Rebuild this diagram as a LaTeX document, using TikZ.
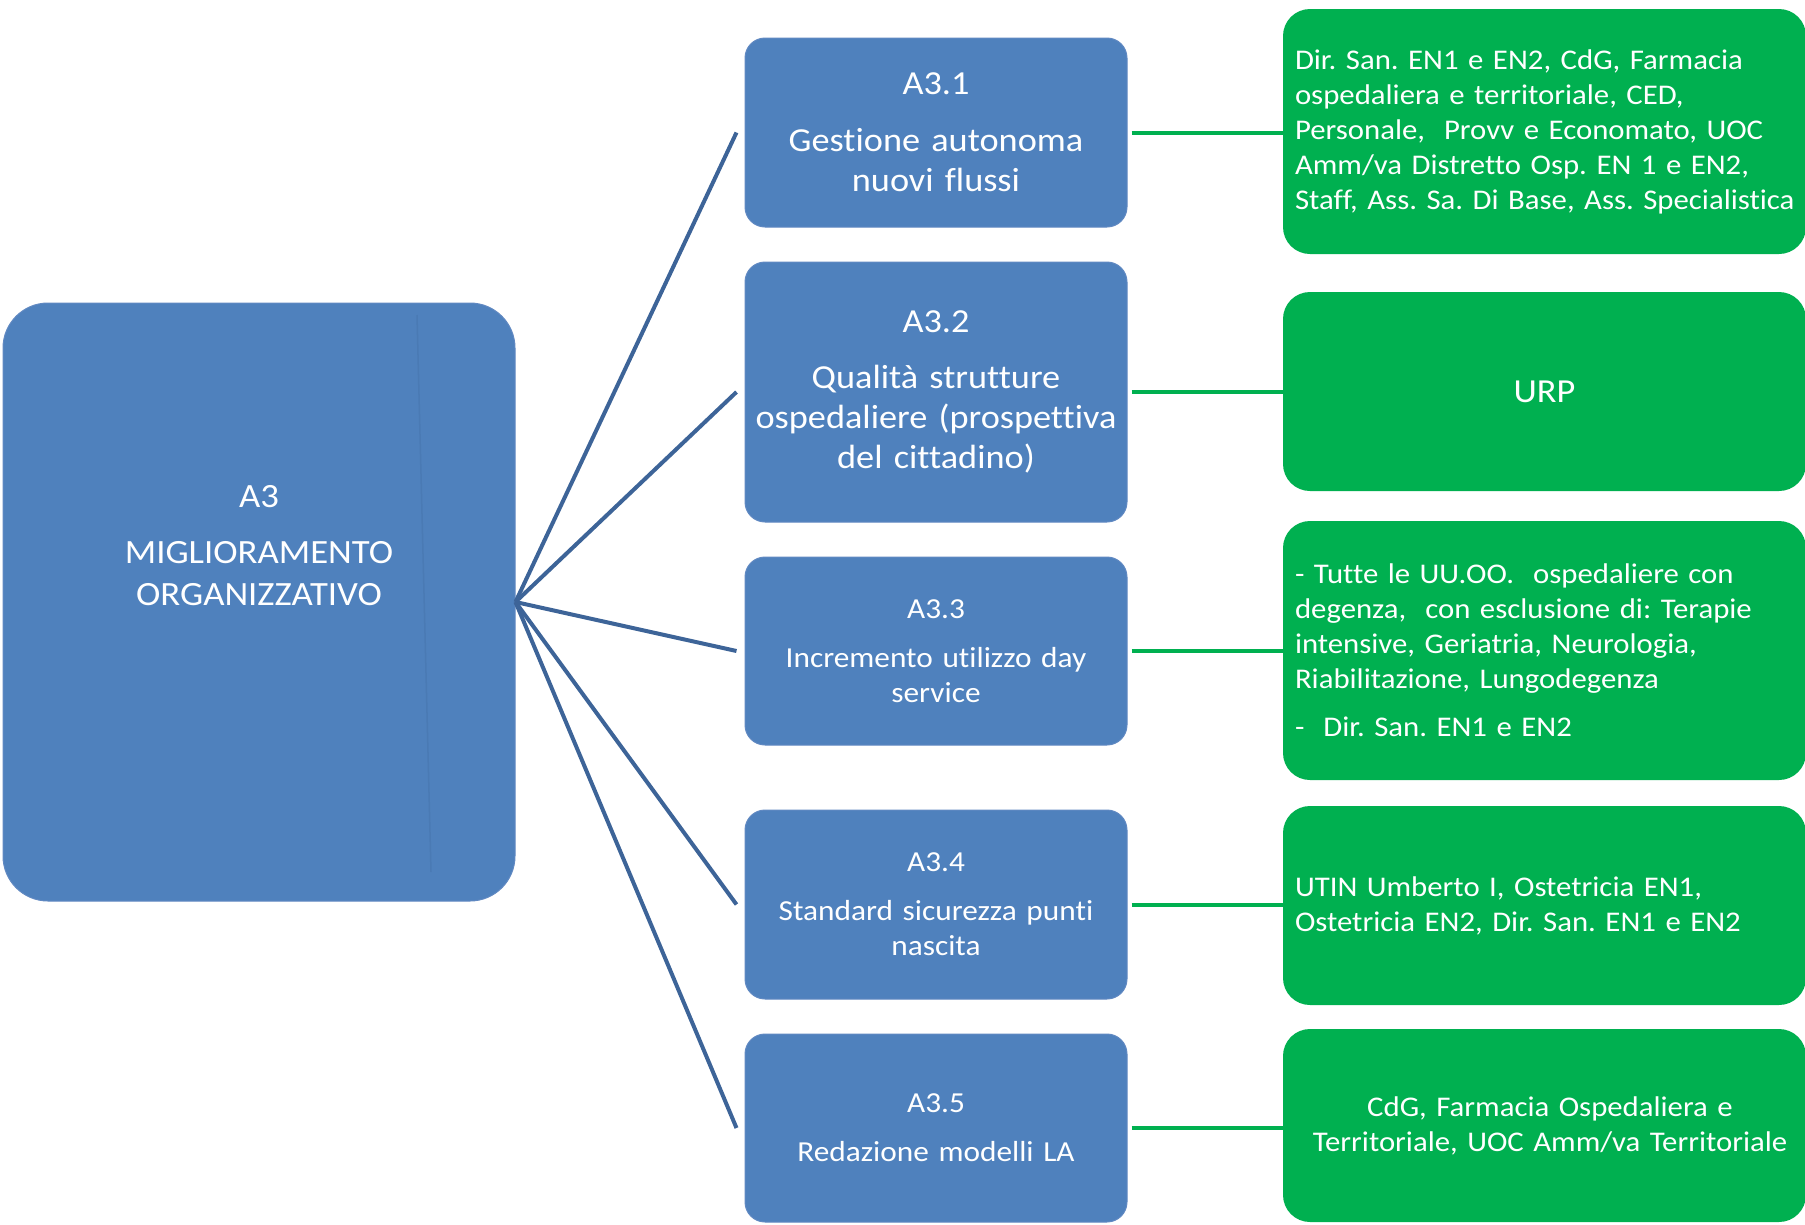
\documentclass[tikz,border=0pt]{standalone}
\usepackage{fontspec}
\setmainfont[FakeStretch=1.08, Ligatures=NoCommon]{Carlito}
\definecolor{boxblue}{HTML}{4F81BD}
\definecolor{boxedge}{HTML}{6189C2}
\definecolor{seamblue}{HTML}{4A7AB4}
\definecolor{linkblue}{HTML}{3D6498}
\definecolor{unitgreen}{HTML}{00B050}
\begin{document}
\frenchspacing
\hbadness=10000 \hfuzz=100pt
\begin{tikzpicture}[x=1pt,y=-1pt,
  mainbox/.style={draw=boxedge, line width=1pt, fill=boxblue, rounded corners=45pt,
    minimum width=512pt, minimum height=598pt, inner sep=0pt},
  maintext/.style={text=white, align=center, inner sep=0pt,
    font=\fontsize{34}{42}\selectfont},
  taskbox/.style={draw=boxedge, line width=1pt, fill=boxblue, rounded corners=20pt,
    minimum width=382pt, inner sep=0pt, text=white, align=center, text width=376pt},
  bigtask/.style={taskbox, font=\fontsize{33.6}{40}\selectfont},
  smalltask/.style={taskbox, font=\fontsize{29}{35}\selectfont},
  unitbox/.style={fill=unitgreen, rounded corners=27pt, minimum width=523pt,
    inner sep=0pt, text=white, text width=499pt, font=\fontsize{28.5}{35}\selectfont},
  spoke/.style={draw=linkblue, line width=4pt},
  link/.style={draw=unitgreen, line width=4pt}
]
\useasboundingbox (0,0) rectangle (1805,1224);

% root objective
\node[mainbox] (a3) at (259,602) {};
\draw[seamblue, line width=1.5pt] (417,315) -- (431,872);
\node[maintext] (a3t) at (259,546) {A3\\[14pt]MIGLIORAMENTO\\ORGANIZZATIVO};

% sub-objectives
\node[bigtask, minimum height=189pt] (t1) at (936,132.5)
  {A3.1\\[17pt]Gestione autonoma\\nuovi flussi};
\node[bigtask, minimum height=260pt] (t2) at (936,392)
  {A3.2\\[16pt]Qualità strutture\\ospedaliere (prospettiva\\del cittadino)};
\node[smalltask, minimum height=188pt] (t3) at (936,651)
  {A3.3\\[14pt]Incremento utilizzo day\\service};
\node[smalltask, minimum height=189pt] (t4) at (936,904.5)
  {A3.4\\[14pt]Standard sicurezza punti\\nascita};
\node[smalltask, minimum height=188pt] (t5) at (936,1128)
  {A3.5\\[14pt]Redazione modelli LA};

% responsible units
\node[unitbox, align=left, minimum height=245pt] (u1) at (1544.5,131.5)
  {Dir. San. EN1 e EN2, CdG, Farmacia\\
   ospedaliera e territoriale, CED,\\
   Personale,\ \ Provv e Economato, UOC\\
   Amm/va Distretto Osp. EN 1 e EN2,\\
   \mbox{Staff, Ass. Sa. Di Base, Ass. Specialistica}};
\node[unitbox, align=center, minimum height=199pt,
  font=\fontsize{33.6}{40}\selectfont] (u2) at (1544.5,391.5) {URP};
\node[unitbox, align=left, minimum height=259pt] (u3) at (1544.5,650.5)
  {- Tutte le UU.OO.\ \ ospedaliere con\\
   degenza,\ \ con esclusione di: Terapie\\
   intensive, Geriatria, Neurologia,\\
   Riabilitazione, Lungodegenza\\[13pt]
   -\ \ Dir. San. EN1 e EN2};
\node[unitbox, align=left, minimum height=199pt] (u4) at (1544.5,905.5)
  {UTIN Umberto I, Ostetricia EN1,\\
   Ostetricia EN2, Dir. San. EN1 e EN2};
\node[unitbox, align=center, minimum height=193pt] (u5) at (1544.5,1125.5)
  {\hspace*{11pt}CdG, Farmacia Ospedaliera e\\
   \hspace*{11pt}Territoriale, UOC Amm/va Territoriale};

% connectors
\foreach \i in {1,...,5} {
  \draw[spoke] (a3.east) -- ([xshift=-8pt]t\i.west);
  \draw[link] ([xshift=4pt]t\i.east) -- (t\i.east -| u\i.west);
}
\end{tikzpicture}
\end{document}
